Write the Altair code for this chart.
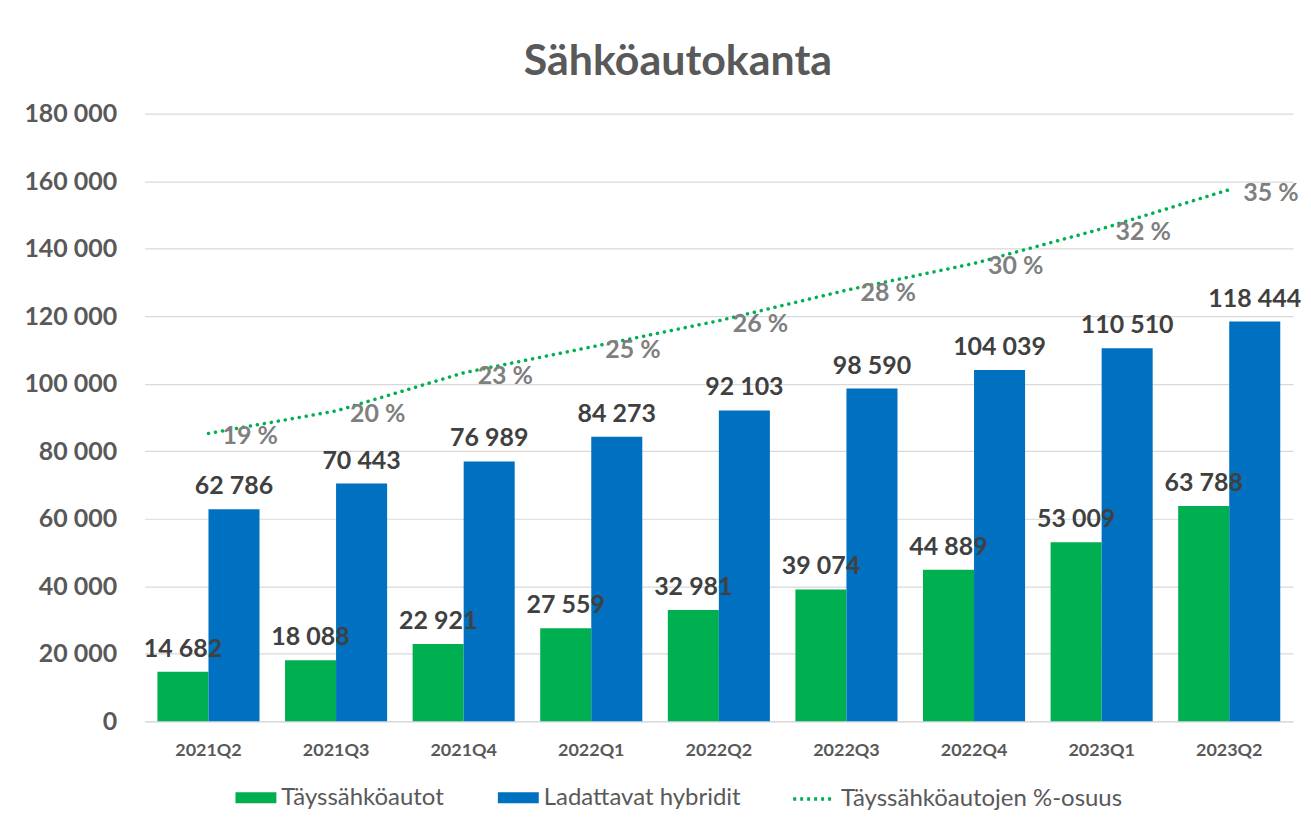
import altair as alt
import pandas as pd

quarters = ["2021Q2", "2021Q3", "2021Q4", "2022Q1", "2022Q2", "2022Q3", "2022Q4", "2023Q1", "2023Q2"]
bev = [14682, 18088, 22921, 27559, 32981, 39074, 44889, 53009, 63788]
phev = [62786, 70443, 76989, 84273, 92103, 98590, 104039, 110510, 118444]
share = [0.1895, 0.2043, 0.2294, 0.2464, 0.2637, 0.2838, 0.3014, 0.3242, 0.3500]
share_labels = ["19 %", "20 %", "23 %", "25 %", "26 %", "28 %", "30 %", "32 %", "35 %"]
series_names = ["Täyssähköautot", "Ladattavat hybridit"]
line_name = "Täyssähköautojen %-osuus"

GREEN = "#00B050"
BLUE = "#0070C0"
FONT = "Lato"

rows = []
for q, b, p in zip(quarters, bev, phev):
    rows.append({"quarter": q, "series": series_names[0], "value": b, "label": f"{b:,}".replace(",", " ")})
    rows.append({"quarter": q, "series": series_names[1], "value": p, "label": f"{p:,}".replace(",", " ")})
bars_df = pd.DataFrame(rows)
line_df = pd.DataFrame({"quarter": quarters, "share": share, "label": share_labels, "name": line_name})

x_enc = alt.X("quarter:N", sort=quarters,
              scale=alt.Scale(paddingInner=0.2, paddingOuter=0.1),
              axis=alt.Axis(title=None, labelAngle=0, ticks=False, domainColor="#D9D9D9",
                            labelFont=FONT, labelFontSize=18, labelFontWeight="bold",
                            labelColor="#595959", labelPadding=20, grid=False))
xoff = alt.XOffset("series:N", sort=series_names, scale=alt.Scale(paddingInner=0, paddingOuter=0))
y_enc = alt.Y("value:Q", scale=alt.Scale(domain=[0, 180000], nice=False),
              axis=alt.Axis(title=None, values=list(range(0, 180001, 20000)), ticks=False, domain=False,
                            labelExpr="replace(format(datum.value, ','), ',', ' ')",
                            labelFont=FONT, labelFontSize=25, labelFontWeight="bold",
                            labelColor="#595959", labelPadding=28,
                            gridColor="#D9D9D9", gridWidth=1.2))

bars = alt.Chart(bars_df).mark_bar().encode(
    x=x_enc, xOffset=xoff, y=y_enc,
    fill=alt.Fill("series:N", sort=series_names,
                  scale=alt.Scale(domain=series_names, range=[GREEN, BLUE]),
                  legend=alt.Legend(title=None, orient="none", legendX=91, legendY=665,
                                    direction="horizontal", symbolType="M-1,-0.27H1V0.27H-1Z",
                                    symbolSize=1681, symbolStrokeWidth=0, labelFont=FONT,
                                    labelFontSize=24, labelColor="#595959", labelOffset=5,
                                    labelLimit=400, columnPadding=54))
)
bar_text = alt.Chart(bars_df).mark_text(
    dy=-15, baseline="alphabetic", font=FONT, fontSize=25, fontWeight="bold", color="#404040"
).encode(x=alt.X("quarter:N", sort=quarters), xOffset=xoff, y=alt.Y("value:Q"), text="label:N")

bar_layer = alt.layer(bars, bar_text)

line = alt.Chart(line_df).mark_line(strokeWidth=3.5, strokeDash=[0.1, 7], strokeCap="round").encode(
    x=alt.X("quarter:N", sort=quarters),
    y=alt.Y("share:Q", scale=alt.Scale(domain=[0, 0.4], nice=False), axis=None),
    stroke=alt.Stroke("name:N", scale=alt.Scale(domain=[line_name], range=[GREEN]),
                      legend=alt.Legend(title=None, orient="none", legendX=648, legendY=665,
                                        symbolType="stroke", symbolSize=1600, symbolStrokeWidth=3.5,
                                        symbolDash=[3, 4],
                                        labelFont=FONT, labelFontSize=24, labelColor="#595959",
                                        labelOffset=6, labelLimit=400))
)
line_text = alt.Chart(line_df).mark_text(
    align="left", baseline="middle", dx=14, dy=3, font=FONT, fontSize=25, fontWeight="bold", color="#7F7F7F"
).encode(x=alt.X("quarter:N", sort=quarters), y=alt.Y("share:Q"), text="label:N")

line_layer = alt.layer(line, line_text)

chart = alt.layer(bar_layer, line_layer).resolve_scale(y="independent").properties(
    width=1151, height=609,
    padding={"left": 137, "top": 105, "right": 10, "bottom": 90},
    autosize=alt.AutoSizeParams(type="none"),
    title=alt.TitleParams("Sähköautokanta", font=FONT, fontSize=43, fontWeight="bold",
                          color="#595959", anchor="middle", dx=-41, offset=18),
).configure_view(stroke=None)

chart.save("out.html", embed_options={"renderer": "svg", "actions": False})
